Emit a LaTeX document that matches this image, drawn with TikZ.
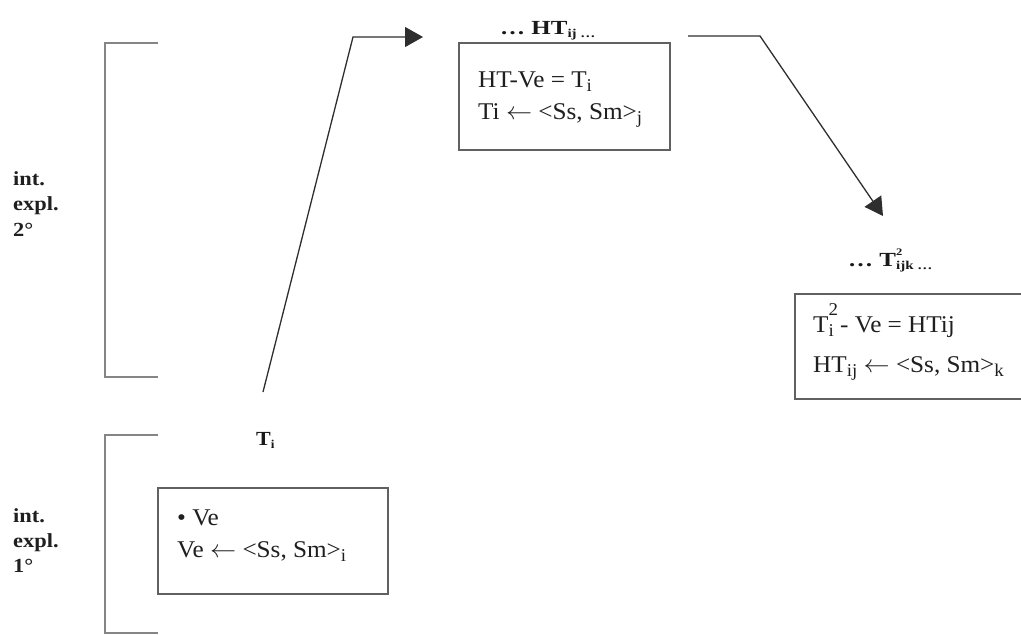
\documentclass[tikz,border=0pt]{standalone}
\usepackage{fontspec}
\usepackage{graphicx}
\setmainfont{Liberation Serif}
\usetikzlibrary{arrows.meta}

% lowered and raised small text inside the boxes
\newcommand\bxsub[1]{\raisebox{-4pt}{\fontsize{18}{18}\selectfont #1}}
\newcommand\bxsup[1]{\raisebox{17pt}{\fontsize{18}{18}\selectfont #1}}
% small bold index text in the level headings
\newcommand\hdsub[1]{\raisebox{-3pt}{\fontsize{12}{12}\selectfont\bfseries #1}}
\newcommand\hdsup[1]{\raisebox{11pt}{\fontsize{10}{10}\selectfont\bfseries #1}}
% horizontally widened text
\newcommand\wide[2][1.2]{\scalebox{#1}[1]{#2}}
\newcommand\larr{$\leftarrow$}

\tikzset{
  frame/.style={draw=black!62, line width=1.5pt, inner sep=0pt, outer sep=0pt},
  bracket/.style={draw=black!48, line width=2pt},
  linktext/.style={anchor=base west, inner sep=0pt, text=black!88, font=\fontsize{24}{28}\selectfont},
  heading/.style={anchor=base west, inner sep=0pt, text=black!90, font=\fontsize{20}{24}\selectfont\bfseries},
  sidetext/.style={anchor=base west, inner sep=0pt, text=black!88, font=\fontsize{20}{24}\selectfont\bfseries},
  flow/.style={draw=black!82, line width=1.3pt, -{Triangle[length=18pt,width=20pt]}}
}

\begin{document}
\begin{tikzpicture}[x=1pt, y=-1pt]
\useasboundingbox (0,0) rectangle (1021,635);

% level brackets
\draw[bracket] (158,43) -- (105,43) -- (105,377) -- (158,377);
\draw[bracket] (158,435) -- (105,435) -- (105,633) -- (158,633);

% level labels
\node[sidetext] (l2a) at (13,185) {\wide[1.12]{int.}};
\node[sidetext] (l2b) at (13,210) {\wide[1.12]{expl.}};
\node[sidetext] (l2c) at (13,236) {\wide[1.12]{2°}};
\node[sidetext] (l1a) at (13,522) {\wide[1.12]{int.}};
\node[sidetext] (l1b) at (13,547) {\wide[1.12]{expl.}};
\node[sidetext] (l1c) at (13,572) {\wide[1.12]{1°}};

% first level
\node[heading] (tihead) at (256,445) {\wide[1.1]{T\hdsub{i}}};
\node[frame, minimum width=230pt, minimum height=106pt] (tibox) at (273,541) {};
\node[linktext] (tiline1) at (177,525) {\wide[1.05]{• Ve}};
\node[linktext] (tiline2) at (177,557) {\wide[1.05]{Ve \larr{} <Ss, Sm>\bxsub{i}}};

% second level
\node[heading] (hthead) at (500,34) {\wide[1.25]{… HT\hdsub{ij …}}};
\node[frame, minimum width=211pt, minimum height=107pt] (htbox) at (564.5,96.5) {};
\node[linktext] (htline1) at (478,87) {\wide[1.05]{HT-Ve = T\bxsub{i}}};
\node[linktext] (htline2) at (478,119) {\wide[1.05]{Ti \larr{} <Ss, Sm>\bxsub{j}}};

% third level
\node[heading] (t2head) at (848,266) {\wide[1.25]{… T\rlap{\hdsup{2}}\hdsub{ijk …}}};
\begin{scope}
  \clip (0,0) rectangle (1021,635);
  \node[frame, minimum width=235pt, minimum height=105pt] (t2box) at (912.5,346.5) {};
\end{scope}
\node[linktext] (t2line1) at (813,332) {\wide[1.05]{T\rlap{\bxsup{2}}\bxsub{i} - Ve = HTij}};
\node[linktext] (t2line2) at (813,372) {\wide[1.05]{HT\bxsub{ij} \larr{} <Ss, Sm>\bxsub{k}}};

% connectors between the levels
\coordinate (upfrom) at (263,392);
\coordinate (upbend) at (353,37);
\coordinate (upto) at (423,37);
\coordinate (dnfrom) at (688,36);
\coordinate (dnbend) at (760,36);
\coordinate (dnto) at (883,216);
\draw[flow] (upfrom) -- (upbend) -- (upto);
\draw[flow] (dnfrom) -- (dnbend) -- (dnto);
\end{tikzpicture}
\end{document}
